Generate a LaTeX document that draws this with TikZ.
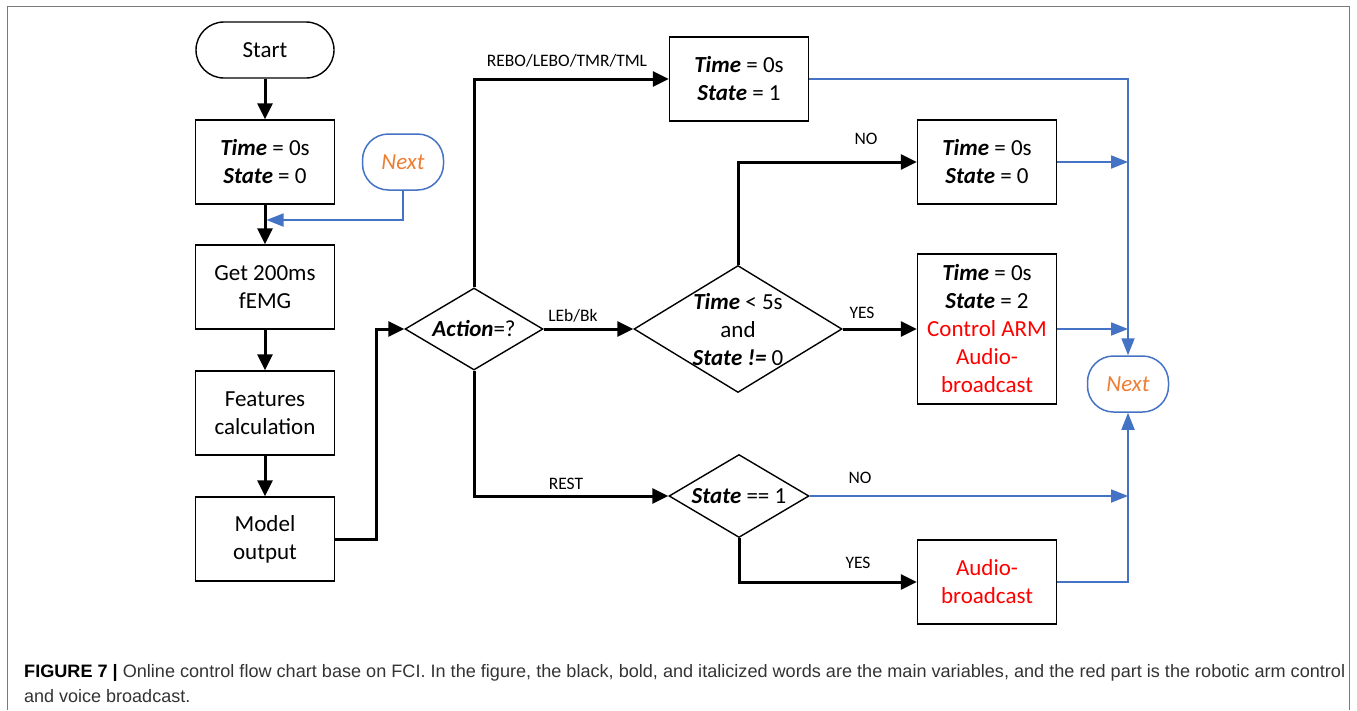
\documentclass[tikz,border=0pt]{standalone}
\usepackage{fontspec}
\usepackage{graphicx}
\setmainfont{Carlito}
\newfontfamily\capfont{Liberation Sans}
\usetikzlibrary{shapes.geometric,arrows.meta}
\definecolor{flowblue}{HTML}{4472C4}
\definecolor{nextorange}{HTML}{ED7D31}
\definecolor{armred}{HTML}{FF0000}
\definecolor{framegray}{HTML}{7A7A7A}
\definecolor{captext}{HTML}{333333}
\newcommand\bvar[1]{\textbf{\textit{#1}}}
\begin{document}
\begin{tikzpicture}[x=1pt,y=-1pt,
  every node/.style={font=\fontsize{23}{28}\selectfont, inner sep=0pt, align=center},
  box/.style={draw, line width=1.4pt, minimum width=139pt, minimum height=84pt},
  term/.style={draw, line width=1.4pt, rounded corners=28pt, minimum width=138pt, minimum height=56pt},
  nextterm/.style={draw=flowblue, line width=1.5pt, rounded corners=26pt, minimum width=81pt,
    minimum height=56pt, text=nextorange, font=\fontsize{23}{28}\selectfont\itshape},
  decision/.style={draw, diamond, line width=1.4pt},
  flow/.style={line width=3pt, -{Triangle[length=16pt,width=15pt]}},
  back/.style={draw=flowblue, line width=1.8pt, -{Triangle[length=17pt,width=13pt]}, color=flowblue},
  tag/.style={font=\fontsize{17.5}{20}\selectfont},
]
\useasboundingbox (0,0) rectangle (1357,710);
% outer frame
\draw[framegray, line width=1.5pt] (7.5,710) -- (7.5,6.5) -- (1349.5,6.5) -- (1349.5,710);

% left column
\node[term] (start) at (265,50) {Start};
\node[box] (init) at (265,162) {\bvar{Time} = 0s\\\bvar{State} = 0};
\node[nextterm] (nextL) at (403,162) {Next};
\node[box] (get) at (265,287) {Get 200ms\\fEMG};
\node[box] (feat) at (265,413) {Features\\calculation};
\node[box] (model) at (265,539) {Model\\output};

% decisions
\node[decision, minimum width=138pt, minimum height=82pt] (act) at (474,329) {};
\node (actT) at (474,329) {\bvar{Action}=?};
\node[decision, minimum width=208pt, minimum height=127pt] (tchk) at (738,329) {};
\node (tchkT) at (738,330) {\bvar{Time} < 5s\\and\\\bvar{State} \bvar{!=} 0};
\node[decision, minimum width=140pt, minimum height=83pt] (s1) at (739,496) {};
\node (s1T) at (739,496) {\bvar{State} == 1};

% result boxes
\node[box] (set1) at (739,79) {\bvar{Time} = 0s\\\bvar{State} = 1};
\node[box] (set0) at (987,162) {\bvar{Time} = 0s\\\bvar{State} = 0};
\node[box, minimum height=150pt] (set2) at (987,329) {\bvar{Time} = 0s\\\bvar{State} = 2\\
  \textcolor{armred}{Control ARM}\\\textcolor{armred}{Audio-}\\\textcolor{armred}{broadcast}};
\node[box] (audio) at (987,582) {\textcolor{armred}{Audio-}\\\textcolor{armred}{broadcast}};
\node[nextterm] (nextR) at (1128,384) {Next};

% main flow
\draw[flow] (start) -- (init);
\draw[flow] (init) -- (get);
\draw[flow] (get) -- (feat);
\draw[flow] (feat) -- (model);
\coordinate (jog) at (376,329);
\draw[flow] (model.east) -| (jog) -- (act.west);

\coordinate (upturn) at (474,79);
\draw[flow] (act.north) -- (upturn) -- (set1.west);
\draw[flow] (act.east) -- (tchk.west);
\coordinate (noturn) at (738,162);
\draw[flow] (tchk.north) -- (noturn) -- (set0.west);
\draw[flow] (tchk.east) -- (set2.west);
\coordinate (restturn) at (474,496);
\draw[flow] (act.south) -- (restturn) -- (s1.west);
\coordinate (yesturn) at (739,582);
\draw[flow] (s1.south) -- (yesturn) -- (audio.west);

% loop back
\coordinate (merge) at (266.5,220);
\draw[back] (nextL.south) |- (merge);
\coordinate (railtop) at (1128,79);
\coordinate (j0) at (1128,162);
\coordinate (j2) at (1128,329);
\coordinate (j3) at (1128,496);
\coordinate (railbot) at (1128,582);
\draw[back] (set1.east) -- (railtop) -- (nextR.north);
\draw[back] (set0.east) -- (j0);
\draw[back] (set2.east) -- (j2);
\draw[back] (s1.east) -- (j3);
\draw[back] (audio.east) -- (railbot) -- (nextR.south);

% branch labels
\node[tag] (lrebo) at (567,61) {REBO/LEBO/TMR/TML};
\node[tag] (lleb) at (573,316) {LEb/Bk};
\node[tag] (lno1) at (866,139) {NO};
\node[tag] (lyes1) at (862,313) {YES};
\node[tag] (lrest) at (566,484) {REST};
\node[tag] (lno2) at (860,478) {NO};
\node[tag] (lyes2) at (858,563) {YES};

% caption
\node[anchor=base west, align=left, text=captext, font=\capfont\fontsize{18}{22}\selectfont] (cap1) at (24,677)
  {\resizebox{1321pt}{\height}{\textcolor{black}{\textbf{FIGURE 7 |}} Online control flow chart base on FCI. In the figure, the black, bold, and italicized words are the main variables, and the red part is the robotic arm control}};
\node[anchor=base west, align=left, text=captext, font=\capfont\fontsize{18}{22}\selectfont] (cap2) at (24,702)
  {and voice broadcast.};
\end{tikzpicture}
\end{document}
